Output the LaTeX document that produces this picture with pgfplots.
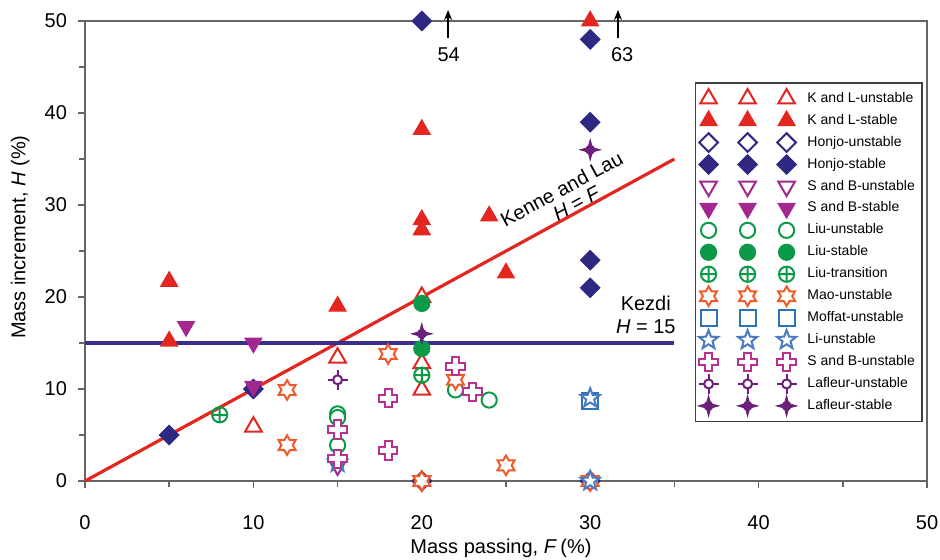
\documentclass[border=0pt]{standalone}
\usepackage{fontspec}
\setmainfont{Liberation Sans}
\usepackage{pgfplots}
\pgfplotsset{compat=1.18}
\usetikzlibrary{arrows.meta}

\definecolor{cRed}{HTML}{E3261F}
\definecolor{cNavy}{HTML}{2E2883}
\definecolor{cMag}{HTML}{A3278F}
\definecolor{cGreen}{HTML}{0D9A48}
\definecolor{cOrange}{HTML}{F05A28}
\definecolor{cMoffat}{HTML}{2D73B9}
\definecolor{cLi}{HTML}{4A7CC2}
\definecolor{cPlus}{HTML}{B9318F}
\definecolor{cLaf}{HTML}{6B1F7B}
\definecolor{cKezdi}{HTML}{3A2F8F}

\pgfdeclareplotmark{hexstar}{%
  \pgfpathmoveto{\pgfpointpolar{90}{\pgfplotmarksize}}%
  \pgfpathlineto{\pgfpointpolar{120}{0.577\pgfplotmarksize}}%
  \pgfpathlineto{\pgfpointpolar{150}{\pgfplotmarksize}}%
  \pgfpathlineto{\pgfpointpolar{180}{0.577\pgfplotmarksize}}%
  \pgfpathlineto{\pgfpointpolar{210}{\pgfplotmarksize}}%
  \pgfpathlineto{\pgfpointpolar{240}{0.577\pgfplotmarksize}}%
  \pgfpathlineto{\pgfpointpolar{270}{\pgfplotmarksize}}%
  \pgfpathlineto{\pgfpointpolar{300}{0.577\pgfplotmarksize}}%
  \pgfpathlineto{\pgfpointpolar{330}{\pgfplotmarksize}}%
  \pgfpathlineto{\pgfpointpolar{0}{0.577\pgfplotmarksize}}%
  \pgfpathlineto{\pgfpointpolar{30}{\pgfplotmarksize}}%
  \pgfpathlineto{\pgfpointpolar{60}{0.577\pgfplotmarksize}}%
  \pgfpathclose
  \pgfusepathqfillstroke
}
\pgfdeclareplotmark{fivestar}{%
  \pgfpathmoveto{\pgfpointpolar{90}{\pgfplotmarksize}}%
  \pgfpathlineto{\pgfpointpolar{126}{0.42\pgfplotmarksize}}%
  \pgfpathlineto{\pgfpointpolar{162}{\pgfplotmarksize}}%
  \pgfpathlineto{\pgfpointpolar{198}{0.42\pgfplotmarksize}}%
  \pgfpathlineto{\pgfpointpolar{234}{\pgfplotmarksize}}%
  \pgfpathlineto{\pgfpointpolar{270}{0.42\pgfplotmarksize}}%
  \pgfpathlineto{\pgfpointpolar{306}{\pgfplotmarksize}}%
  \pgfpathlineto{\pgfpointpolar{342}{0.42\pgfplotmarksize}}%
  \pgfpathlineto{\pgfpointpolar{18}{\pgfplotmarksize}}%
  \pgfpathlineto{\pgfpointpolar{54}{0.42\pgfplotmarksize}}%
  \pgfpathclose
  \pgfusepathqfillstroke
}
\pgfdeclareplotmark{gcross}{%
  \pgfpathmoveto{\pgfpoint{0.38\pgfplotmarksize}{\pgfplotmarksize}}%
  \pgfpathlineto{\pgfpoint{0.38\pgfplotmarksize}{0.38\pgfplotmarksize}}%
  \pgfpathlineto{\pgfpoint{\pgfplotmarksize}{0.38\pgfplotmarksize}}%
  \pgfpathlineto{\pgfpoint{\pgfplotmarksize}{-0.38\pgfplotmarksize}}%
  \pgfpathlineto{\pgfpoint{0.38\pgfplotmarksize}{-0.38\pgfplotmarksize}}%
  \pgfpathlineto{\pgfpoint{0.38\pgfplotmarksize}{-\pgfplotmarksize}}%
  \pgfpathlineto{\pgfpoint{-0.38\pgfplotmarksize}{-\pgfplotmarksize}}%
  \pgfpathlineto{\pgfpoint{-0.38\pgfplotmarksize}{-0.38\pgfplotmarksize}}%
  \pgfpathlineto{\pgfpoint{-\pgfplotmarksize}{-0.38\pgfplotmarksize}}%
  \pgfpathlineto{\pgfpoint{-\pgfplotmarksize}{0.38\pgfplotmarksize}}%
  \pgfpathlineto{\pgfpoint{-0.38\pgfplotmarksize}{0.38\pgfplotmarksize}}%
  \pgfpathlineto{\pgfpoint{-0.38\pgfplotmarksize}{\pgfplotmarksize}}%
  \pgfpathclose
  \pgfusepathqfillstroke
}
\pgfdeclareplotmark{lafu}{%
  \pgfpathcircle{\pgfpointorigin}{0.45\pgfplotmarksize}%
  \pgfusepathqfillstroke
  \pgfpathmoveto{\pgfpoint{0.45\pgfplotmarksize}{0pt}}\pgfpathlineto{\pgfpoint{\pgfplotmarksize}{0pt}}%
  \pgfpathmoveto{\pgfpoint{-0.45\pgfplotmarksize}{0pt}}\pgfpathlineto{\pgfpoint{-\pgfplotmarksize}{0pt}}%
  \pgfpathmoveto{\pgfpoint{0pt}{0.45\pgfplotmarksize}}\pgfpathlineto{\pgfpoint{0pt}{\pgfplotmarksize}}%
  \pgfpathmoveto{\pgfpoint{0pt}{-0.45\pgfplotmarksize}}\pgfpathlineto{\pgfpoint{0pt}{-\pgfplotmarksize}}%
  \pgfusepathqstroke
}
\pgfdeclareplotmark{lafs}{%
  \pgfpathmoveto{\pgfpointpolar{0}{\pgfplotmarksize}}%
  \pgfpathlineto{\pgfpointpolar{45}{0.3\pgfplotmarksize}}%
  \pgfpathlineto{\pgfpointpolar{90}{\pgfplotmarksize}}%
  \pgfpathlineto{\pgfpointpolar{135}{0.3\pgfplotmarksize}}%
  \pgfpathlineto{\pgfpointpolar{180}{\pgfplotmarksize}}%
  \pgfpathlineto{\pgfpointpolar{225}{0.3\pgfplotmarksize}}%
  \pgfpathlineto{\pgfpointpolar{270}{\pgfplotmarksize}}%
  \pgfpathlineto{\pgfpointpolar{315}{0.3\pgfplotmarksize}}%
  \pgfpathclose
  \pgfusepathqfillstroke
  \pgfpathcircle{\pgfpointorigin}{0.5\pgfplotmarksize}%
  \pgfusepathqfill
}

\pgfplotsset{threemarks/.style={legend image code/.code={%
  \draw[##1] plot coordinates {(0pt,0pt) (19.5pt,0pt) (39pt,0pt)};
  \path (47pt,0pt);}}}

\begin{document}
\begin{tikzpicture}
\begin{axis}[
  scale only axis,
  width=421pt, height=230pt,
  xmin=0, xmax=50, ymin=0, ymax=50,
  xtick={0,10,...,50}, ytick={0,10,...,50},
  minor tick num=1,
  tick pos=left,
  tick align=outside,
  major tick length=3.5pt, minor tick length=3pt,
  every tick/.style={black!60, line width=0.8pt},
  axis line style={black!60, line width=1pt},
  /pgf/number format/assume math mode=true,
  tick label style={font=\fontsize{10}{12}\selectfont},
  xticklabel style={yshift=-10pt},
  yticklabel style={xshift=-2pt},
  xlabel={Mass passing, \textit{F}\,(\%)},
  ylabel={Mass increment, \textit{H} (\%)},
  label style={font=\fontsize{10}{12}\selectfont},
  xlabel style={at={(axis description cs:0.494,-0.146)}, anchor=center},
  ylabel style={at={(axis description cs:-0.077,0.53)}, anchor=center},
  clip=false,
  legend cell align=left,
  legend style={at={(0.995,0.867)}, anchor=north east, draw=black!75, line width=0.9pt,
    font=\fontsize{7}{8}\selectfont, row sep=0.4pt, inner xsep=1.5pt, inner ysep=2.5pt},
]
% K and L-unstable
\addplot[only marks, threemarks, color=cRed, mark=triangle*, mark size=4.8pt, mark options={fill=white, line width=1pt}]
  coordinates {(10,5.9) (15,13.4) (20,20) (20,12.8) (20,9.9)};
\addlegendentry{K and L-unstable}
% K and L-stable
\addplot[only marks, threemarks, color=cRed, mark=triangle*, mark size=4.8pt, mark options={fill=cRed, line width=0.6pt}]
  coordinates {(5,21.7) (5,15.2) (15,19) (20,38.2) (20,28.4) (20,27.3) (24,28.8) (25,22.6) (30,50)};
\addlegendentry{K and L-stable}
% Honjo-unstable
\addplot[only marks, threemarks, color=cNavy, mark=square*, mark size=3.3pt, mark options={rotate=45, fill=white, line width=1pt}]
  coordinates {(20,0) (30,0)};
\addlegendentry{Honjo-unstable}
% Honjo-stable
\addplot[only marks, threemarks, color=cNavy, mark=square*, mark size=3.4pt, mark options={rotate=45, fill=cNavy, line width=0.6pt}]
  coordinates {(5,5) (10,10) (20,50) (30,48) (30,39) (30,24) (30,21)};
\addlegendentry{Honjo-stable}
% S and B-unstable (triangle)
\addplot[only marks, threemarks, color=cMag, mark=triangle*, mark size=4.8pt, mark options={rotate=180, fill=white, line width=1pt}]
  coordinates {(15,1.7) (20,0)};
\addlegendentry{S and B-unstable}
% S and B-stable
\addplot[only marks, threemarks, color=cMag, mark=triangle*, mark size=4.8pt, mark options={rotate=180, fill=cMag, line width=0.6pt}]
  coordinates {(6,16.8) (10,15) (10,10.3)};
\addlegendentry{S and B-stable}
% Liu-unstable
\addplot[only marks, threemarks, color=cGreen, mark=*, mark size=3.8pt, mark options={fill=white, line width=1pt}]
  coordinates {(15,7.3) (15,6.9) (15,3.9) (22,9.9) (24,8.8)};
\addlegendentry{Liu-unstable}
% Liu-stable
\addplot[only marks, threemarks, color=cGreen, mark=*, mark size=4pt, mark options={fill=cGreen, line width=0.6pt}]
  coordinates {(20,19.3) (20,14.4)};
\addlegendentry{Liu-stable}
% Liu-transition
\addplot[only marks, threemarks, color=cGreen, mark=oplus, mark size=3.8pt, mark options={fill=white, line width=1pt}]
  coordinates {(8,7.2) (20,11.5)};
\addlegendentry{Liu-transition}
% Mao-unstable
\addplot[only marks, threemarks, color=cOrange, mark=hexstar, mark size=4.9pt, mark options={fill=white, line width=1pt}]
  coordinates {(12,9.9) (12,3.9) (18,13.8) (22,11) (25,1.7) (20,0) (30,0)};
\addlegendentry{Mao-unstable}
% Moffat-unstable
\addplot[only marks, threemarks, color=cMoffat, mark=square*, mark size=4pt, mark options={fill=white, line width=1pt}]
  coordinates {(30,8.7)};
\addlegendentry{Moffat-unstable}
% Li-unstable
\addplot[only marks, threemarks, color=cLi, mark=fivestar, mark size=5pt, mark options={fill=white, line width=1pt}]
  coordinates {(30,9) (15,2) (30,0)};
\addlegendentry{Li-unstable}
% S and B-unstable (cross)
\addplot[only marks, threemarks, color=cPlus, mark=gcross, mark size=4.6pt, mark options={fill=white, line width=1pt}]
  coordinates {(15,5.6) (15,2.4) (18,9) (18,3.3) (22,12.5) (23,9.7)};
\addlegendentry{S and B-unstable}
% Lafleur-unstable
\addplot[only marks, threemarks, color=cLaf, mark=lafu, mark size=5pt, mark options={fill=white, line width=1pt}]
  coordinates {(15,11)};
\addlegendentry{Lafleur-unstable}
% Lafleur-stable
\addplot[only marks, threemarks, color=cLaf, mark=lafs, mark size=5pt, mark options={fill=cLaf, line width=0.5pt}]
  coordinates {(20,16) (30,36)};
\addlegendentry{Lafleur-stable}

% Reference lines
\addplot[forget plot, color=cRed, line width=1.6pt] coordinates {(0,0) (35,35)};
\addplot[forget plot, color=cKezdi, line width=1.6pt] coordinates {(0,15) (35,15)};

% Off-scale arrows
\draw[-{Stealth[length=5pt,width=4pt]}, line width=0.8pt] (axis cs:21.56,48.2) -- (axis cs:21.56,51.2);
\node[font=\fontsize{10}{12}\selectfont] at (axis cs:21.6,46.3) {54};
\draw[-{Stealth[length=5pt,width=4pt]}, line width=0.8pt] (axis cs:31.65,48.2) -- (axis cs:31.65,51.2);
\node[font=\fontsize{10}{12}\selectfont] at (axis cs:31.9,46.3) {63};

% Line labels
\node[rotate=28.6, font=\fontsize{10}{12}\selectfont, inner sep=0pt] at (axis cs:28.3,31.75) {Kenne and Lau};
\node[rotate=28.6, font=\fontsize{10}{12}\selectfont, inner sep=0pt] at (axis cs:29.2,30.2) {\textit{H} = \textit{F}};
\node[align=center, font=\fontsize{10}{11.5}\selectfont] at (axis cs:33.3,18.1) {Kezdi\\\textit{H} = 15};
\end{axis}
\pgfresetboundingbox
\path ([shift={(-42.5pt,-39pt)}]current axis.south west) rectangle ++(470pt,279.5pt);
\end{tikzpicture}
\end{document}
